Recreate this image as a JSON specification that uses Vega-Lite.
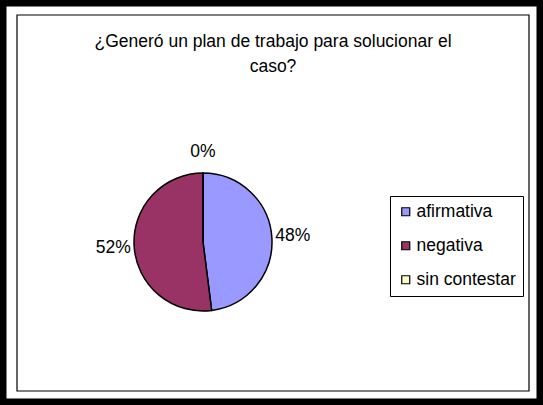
{
  "$schema": "https://vega.github.io/schema/vega-lite/v6.json",
  "width": 543,
  "height": 405,
  "autosize": {"type": "none"},
  "padding": 0,
  "background": "white",
  "view": {"stroke": "black", "strokeWidth": 13, "strokeJoin": "miter", "cornerRadius": 0},
  "config": {
    "view": {"stroke": "black", "strokeWidth": 13, "strokeJoin": "miter", "cornerRadius": 0},
    "font": "Liberation Sans"
  },
  "title": {
    "text": ["¿Generó un plan de trabajo para solucionar el", "caso?"],
    "anchor": "middle",
    "frame": "group",
    "font": "Liberation Sans",
    "fontSize": 17.5,
    "fontWeight": "normal",
    "color": "black",
    "offset": -75,
    "lineHeight": 25,
    "dx": 1.5
  },
  "data": {
    "values": [
      {"categoria": "afirmativa", "porcentaje": 48, "etiqueta": "48%"},
      {"categoria": "negativa", "porcentaje": 52, "etiqueta": "52%"},
      {"categoria": "sin contestar", "porcentaje": 0, "etiqueta": "0%"}
    ]
  },
  "layer": [
    {
      "data": {"values": [{"marco": "interior"}]},
      "mark": {"type": "rect", "x": 17, "x2": 529, "y": 15, "y2": 391, "fill": null, "stroke": "black", "strokeWidth": 1.2},
      "encoding": {}
    },
    {
      "mark": {"type": "arc", "x": 203, "y": 242, "outerRadius": 69, "stroke": "black", "strokeWidth": 1.5},
      "encoding": {
        "theta": {"field": "porcentaje", "type": "quantitative", "stack": true},
        "order": {"field": "categoria"},
        "color": {
          "field": "categoria",
          "type": "nominal",
          "scale": {"domain": ["afirmativa", "negativa", "sin contestar"], "range": ["#9999FF", "#993366", "#FFFFCC"]},
          "legend": {
            "orient": "none",
            "legendX": 390,
            "legendY": 196,
            "title": null,
            "symbolType": "square",
            "symbolSize": 64,
            "symbolStrokeColor": "black",
            "symbolStrokeWidth": 1.2,
            "labelFontSize": 17.5,
            "labelFont": "Liberation Sans",
            "labelColor": "black",
            "labelLimit": 300,
            "strokeColor": "black",
            "fillColor": "white",
            "padding": 7,
            "rowPadding": 15,
            "labelOffset": 2
          }
        }
      }
    },
    {
      "mark": {"type": "text", "x": 203, "y": 242, "radius": 90, "fontSize": 17.5, "font": "Liberation Sans", "fill": "black"},
      "encoding": {
        "theta": {"field": "porcentaje", "type": "quantitative", "stack": true},
        "order": {"field": "categoria"},
        "detail": {"field": "categoria", "type": "nominal"},
        "text": {"field": "etiqueta", "type": "nominal"}
      }
    }
  ]
}
